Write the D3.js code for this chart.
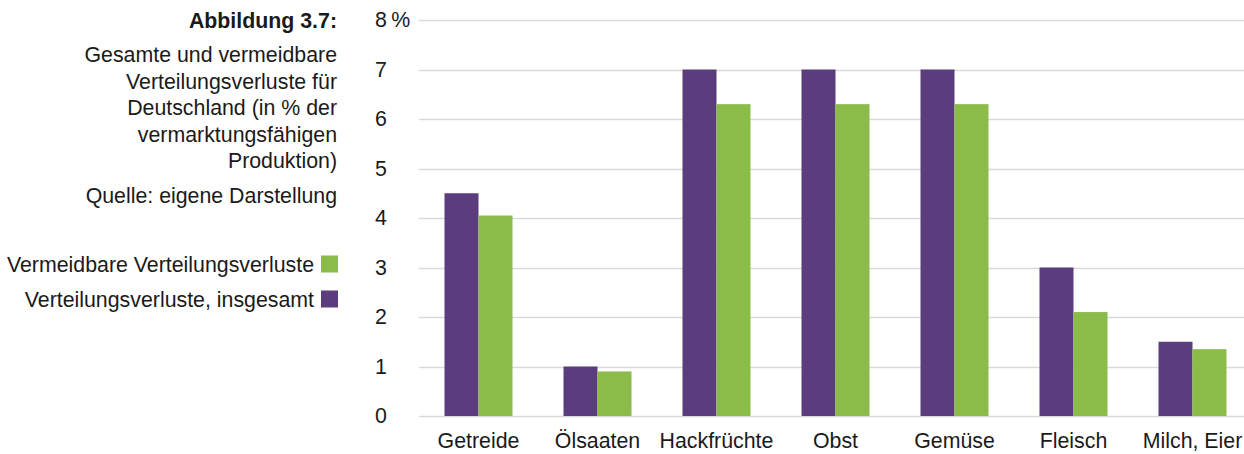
<!DOCTYPE html>
<html><head><meta charset="utf-8">
<script src="https://cdn.jsdelivr.net/npm/d3@7"></script>
<style>body{margin:0;background:#fff;}svg{display:block;font-family:"Liberation Sans",Arial,sans-serif;}</style>
</head><body><svg id="c" width="1244" height="454"></svg>
<script>
const categories = ["Getreide","Ölsaaten","Hackfrüchte","Obst","Gemüse","Fleisch","Milch, Eier"];
const totalValues = [4.5, 1.0, 7.0, 7.0, 7.0, 3.0, 1.5];
const avoidableValues = [4.05, 0.9, 6.3, 6.3, 6.3, 2.1, 1.35];
const tickValues = [0,1,2,3,4,5,6,7,8];
const tickLabels = ["0","1","2","3","4","5","6","7","8\u2009%"];
const seriesNames = ["Vermeidbare Verteilungsverluste","Verteilungsverluste, insgesamt"];
const titleBold = "Abbildung 3.7:";
const titleLines = ["Gesamte und vermeidbare","Verteilungsverluste für","Deutschland (in % der","vermarktungsfähigen","Produktion)"];
const sourceLine = "Quelle: eigene Darstellung";

const purple = "#5b3d7d", green = "#8bbc4a";
const FS = 21.33;
const svg = d3.select("#c");
const y = d3.scaleLinear().domain([0,8]).range([416,20]);
const x = d3.scaleBand().domain(categories).range([419,1252]).padding(0);
const barW = 34;

// gridlines
svg.append("g").selectAll("line").data(tickValues).join("line")
  .attr("x1",419).attr("x2",1244)
  .attr("y1",d=>Math.round(y(d))+0.5).attr("y2",d=>Math.round(y(d))+0.5)
  .attr("stroke","#d9d9d9").attr("stroke-width",1.5);

// tick labels
svg.append("g").selectAll("text").data(tickValues).join("text")
  .attr("x",375).attr("y",d=>y(d)).attr("dy","0.35em")
  .attr("font-size",FS).attr("fill","#1a1a1a")
  .text((d,i)=>tickLabels[i]);

// bars
const g = svg.append("g");
g.selectAll("rect.t").data(categories).join("rect")
  .attr("x",d=>x(d)+x.bandwidth()/2-barW).attr("width",barW)
  .attr("y",(d,i)=>y(totalValues[i])).attr("height",(d,i)=>y(0)-y(totalValues[i]))
  .attr("fill",purple);
g.selectAll("rect.a").data(categories).join("rect")
  .attr("x",d=>x(d)+x.bandwidth()/2).attr("width",barW)
  .attr("y",(d,i)=>y(avoidableValues[i])).attr("height",(d,i)=>y(0)-y(avoidableValues[i]))
  .attr("fill",green);

// category labels
svg.append("g").selectAll("text").data(categories).join("text")
  .attr("x",d=>x(d)+x.bandwidth()/2).attr("y",448)
  .attr("text-anchor","middle").attr("font-size",FS).attr("fill","#1a1a1a")
  .text(d=>d);

// title block
svg.append("text").attr("x",337).attr("y",28).attr("text-anchor","end")
  .attr("font-size",FS).attr("font-weight","bold").attr("fill","#1a1a1a").text(titleBold);
svg.append("g").selectAll("text").data(titleLines).join("text")
  .attr("x",337).attr("y",(d,i)=>62+i*26.6).attr("text-anchor","end")
  .attr("font-size",FS).attr("fill","#1a1a1a").text(d=>d);
svg.append("text").attr("x",337).attr("y",203).attr("text-anchor","end")
  .attr("font-size",FS).attr("fill","#1a1a1a").text(sourceLine);

// legend
const legColors = [green, purple];
const lg = svg.append("g");
seriesNames.forEach((n,i)=>{
  const base = 272 + i*35;
  lg.append("rect").attr("x",321).attr("y",base-16.5).attr("width",17).attr("height",17).attr("fill",legColors[i]);
  lg.append("text").attr("x",314).attr("y",base).attr("text-anchor","end")
    .attr("font-size",FS).attr("fill","#1a1a1a").text(n);
});
</script></body></html>
